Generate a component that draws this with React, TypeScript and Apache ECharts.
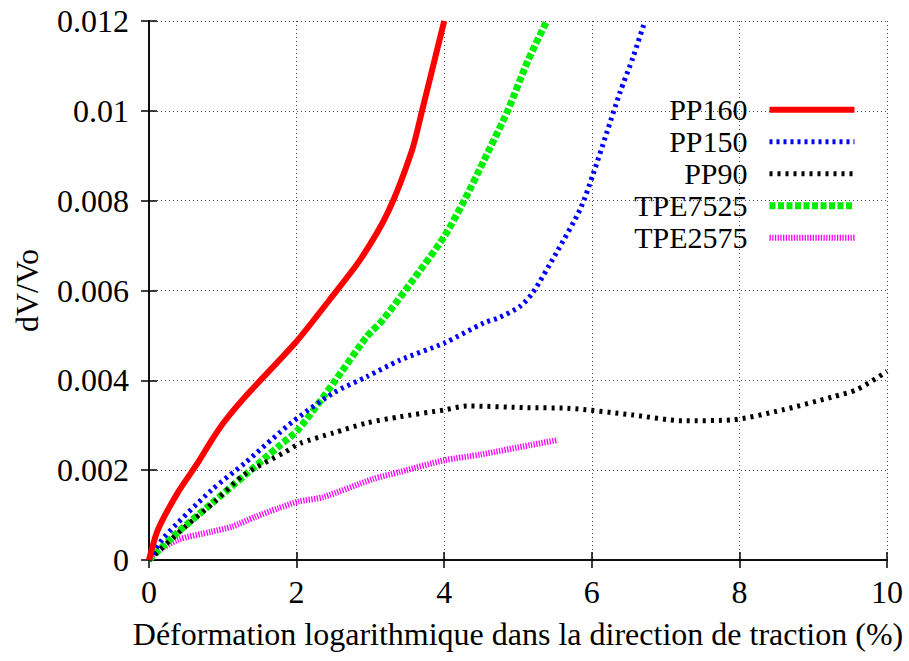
import React, { useEffect, useRef } from "react";
import * as echarts from "echarts";

const seriesNames = ["PP160", "PP150", "PP90", "TPE7525", "TPE2575"];

const pp160X = [0, 0.12, 0.39, 0.66, 0.85, 1.03, 1.3, 1.98, 2.45, 2.86, 3.24, 3.56, 3.7, 4.0];
const pp160Y = [0, 0.00067, 0.0015, 0.00216, 0.00267, 0.0031, 0.00363, 0.00483, 0.0058, 0.00668, 0.00775, 0.0091, 0.01, 0.012];

const pp150X = [0, 0.2, 0.85, 1.3, 1.94, 2.5, 2.95, 3.4, 4.0, 4.54, 4.75, 5.03, 5.2, 5.52, 5.84, 6.02, 6.2, 6.38, 6.56, 6.72];
const pp150Y = [0, 0.0005, 0.00156, 0.00216, 0.00307, 0.00372, 0.00408, 0.00445, 0.00483, 0.00528, 0.0054, 0.00565, 0.00595, 0.00684, 0.0078, 0.0086, 0.0095, 0.0104, 0.0112, 0.012];

const pp90X = [0, 0.49, 0.89, 1.29, 1.84, 2.05, 2.5, 2.95, 3.4, 4.0, 4.31, 5.13, 5.66, 6.55, 7.23, 7.9, 8.58, 9.26, 9.6, 10];
const pp90Y = [0, 0.00074, 0.0013, 0.0019, 0.0024, 0.0026, 0.00283, 0.00305, 0.00319, 0.00334, 0.00343, 0.00339, 0.00338, 0.00323, 0.0031, 0.00312, 0.00334, 0.00363, 0.0038, 0.0042];

const tpe7525X = [0, 0.35, 0.85, 1.3, 1.75, 2.02, 2.5, 2.95, 3.17, 3.58, 4.0, 4.27, 4.54, 4.86, 5.13, 5.39];
const tpe7525Y = [0, 0.00056, 0.00126, 0.00189, 0.00252, 0.0029, 0.00394, 0.00497, 0.00535, 0.00624, 0.0072, 0.008, 0.0089, 0.01, 0.0111, 0.012];

const tpe2575X = [0, 0.08, 0.39, 0.85, 1.12, 1.44, 1.75, 2.02, 2.36, 3.03, 3.4, 4.0, 4.5, 5.17, 5.54];
const tpe2575Y = [0, 0.00015, 0.00045, 0.00063, 0.00074, 0.00096, 0.00115, 0.0013, 0.0014, 0.0018, 0.00196, 0.00222, 0.00235, 0.00256, 0.00267];

const xTicks = { min: 0, max: 10, interval: 2 };
const yTicks = { min: 0, max: 0.012, interval: 0.002 };

const FONT = "Liberation Serif";

function pairs(xs: number[], ys: number[]) {
  return xs.map((x, i) => [x, ys[i]]);
}

export default function App() {
  const ref = useRef<HTMLDivElement>(null);
  useEffect(() => {
    if (!ref.current) return;
    const chart = echarts.init(ref.current, undefined, { renderer: "svg" });
    const styles: any[] = [
      { color: "#ff0000", width: 6, type: "solid" },
      { color: "#0000ff", width: 5, type: [3, 4] },
      { color: "#000000", width: 5, type: [3, 5] },
      { color: "#00ee00", width: 7, type: [6, 2.5] },
      { color: "#ff00ff", width: 6, type: [1.3, 1.4] },
    ];
    const datas = [
      pairs(pp160X, pp160Y),
      pairs(pp150X, pp150Y),
      pairs(pp90X, pp90Y),
      pairs(tpe7525X, tpe7525Y),
      pairs(tpe2575X, tpe2575Y),
    ];
    const axisCommon = {
      axisLine: { show: true, lineStyle: { color: "#000", width: 1.5 } },
      axisTick: { show: true, inside: true, length: 8, lineStyle: { color: "#000", width: 1.5 } },
    };
    const split = { show: true, lineStyle: { color: "#444", width: 1, type: [1, 3] } };
    chart.setOption({
      animation: false,
      backgroundColor: "#fff",
      textStyle: { fontFamily: FONT },
      grid: { left: 149, right: 22, top: 21, bottom: 101, containLabel: false },
      legend: {
        data: seriesNames,
        orient: "vertical",
        right: 46,
        top: 89,
        align: "right",
        itemWidth: 85,
        itemHeight: 1,
        itemGap: 0.5,
        lineStyle: { width: "inherit" },
        textStyle: { fontFamily: FONT, fontSize: 30, color: "#000", lineHeight: 31.5, padding: [0, 17, 0, 0] },
      },
      xAxis: [
        {
          type: "value",
          position: "bottom",
          ...xTicks,
          ...axisCommon,
          splitLine: split,
          axisLabel: { fontFamily: FONT, fontSize: 32, color: "#000", margin: 16 },
          name: "Déformation logarithmique dans la direction de traction (%)",
          nameLocation: "middle",
          nameGap: 58,
          nameTextStyle: { fontFamily: FONT, fontSize: 32, color: "#000" },
        },
        {
          type: "value",
          position: "top",
          ...xTicks,
          ...axisCommon,
          splitLine: { show: false },
          axisLabel: { show: false },
        },
      ],
      yAxis: [
        {
          type: "value",
          position: "left",
          ...yTicks,
          ...axisCommon,
          splitLine: split,
          axisLabel: { fontFamily: FONT, fontSize: 32, color: "#000", margin: 20 },
          name: "dV/Vo",
          nameLocation: "middle",
          nameGap: 106,
          nameTextStyle: { fontFamily: FONT, fontSize: 32, color: "#000" },
        },
        {
          type: "value",
          position: "right",
          ...yTicks,
          ...axisCommon,
          splitLine: { show: false },
          axisLabel: { show: false },
        },
      ],
      series: seriesNames.map((name, i) => ({
        name,
        type: "line",
        xAxisIndex: 0,
        yAxisIndex: 0,
        data: datas[i],
        smooth: 0.25,
        symbol: "none",
        showSymbol: false,
        lineStyle: styles[i],
        itemStyle: { color: styles[i].color },
        z: 10 - i,
      })),
    });
    return () => chart.dispose();
  }, []);
  return <div ref={ref} style={{ width: 909, height: 661, position: "absolute", left: 0, top: 0 }} />;
}
